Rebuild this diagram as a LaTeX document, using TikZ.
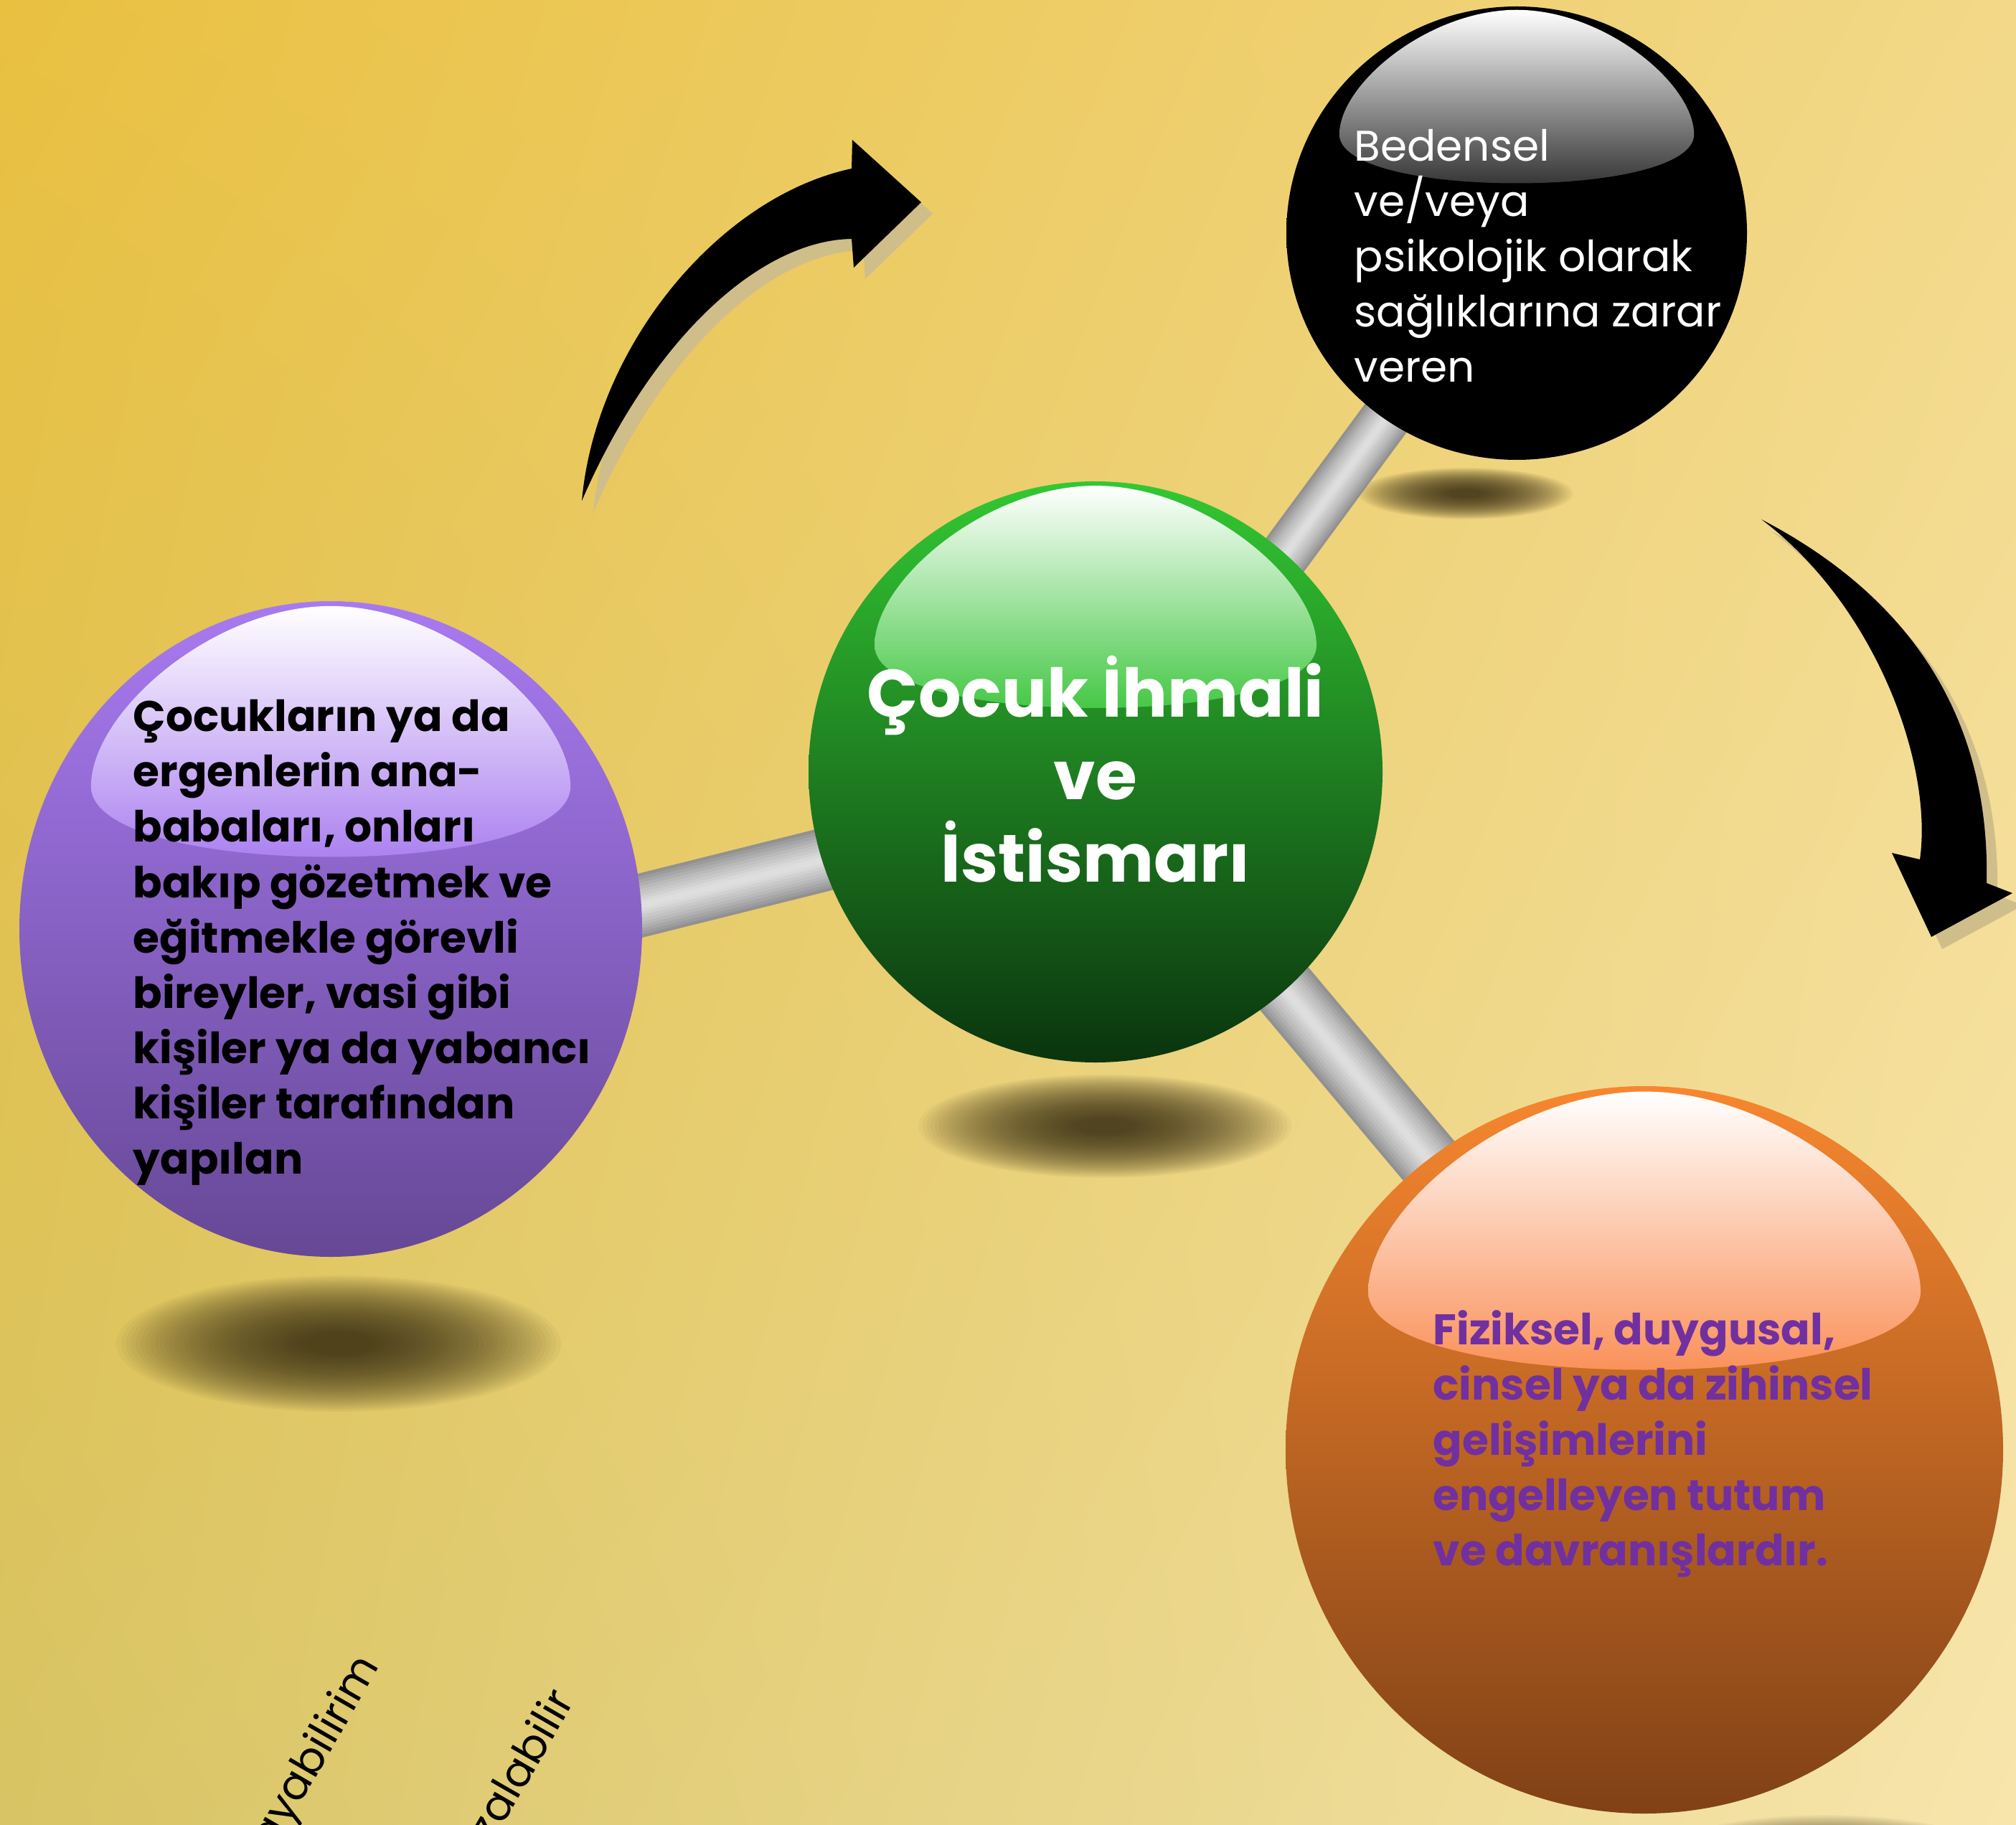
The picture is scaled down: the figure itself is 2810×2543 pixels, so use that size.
\documentclass[tikz,border=0pt]{standalone}
\usepackage{fontspec}
\setmainfont{Poppins}
\usetikzlibrary{shadings}
\definecolor{bgUL}{RGB}{233,192,64}
\definecolor{bgUR}{RGB}{242,216,136}
\definecolor{bgLL}{RGB}{216,196,100}
\definecolor{bgLR}{RGB}{247,229,172}
\definecolor{gTop}{RGB}{51,200,51}
\definecolor{gMid}{RGB}{40,150,40}
\definecolor{gBot}{RGB}{10,52,14}
\definecolor{gHl}{RGB}{70,200,70}
\definecolor{pTop}{RGB}{168,122,240}
\definecolor{pMid}{RGB}{138,98,205}
\definecolor{pBot}{RGB}{102,72,150}
\definecolor{pHl}{RGB}{172,130,240}
\definecolor{oTop}{RGB}{247,135,47}
\definecolor{oMid}{RGB}{212,108,35}
\definecolor{oBot}{RGB}{128,65,22}
\definecolor{oHl}{RGB}{250,145,90}
\definecolor{kHl}{RGB}{55,55,55}
\definecolor{txtPurple}{RGB}{112,48,160}
\definecolor{arrShadow}{RGB}{207,190,138}
\definecolor{shadowCol}{RGB}{55,45,20}
\definecolor{rodA}{gray}{0.57}
\definecolor{rodB}{gray}{0.61}
\definecolor{rodC}{gray}{0.65}
\definecolor{rodD}{gray}{0.69}
\definecolor{rodE}{gray}{0.73}
\definecolor{rodF}{gray}{0.76}
\definecolor{rodG}{gray}{0.79}
\definecolor{rodH}{gray}{0.82}
\definecolor{rodI}{gray}{0.85}
\definecolor{rodJ}{gray}{0.87}
\tikzset{
  greenball/.style={top color=gTop, middle color=gMid, bottom color=gBot},
  greenhl/.style={top color=white, bottom color=gHl},
  purpleball/.style={top color=pTop, middle color=pMid, bottom color=pBot},
  purplehl/.style={top color=white, bottom color=pHl},
  orangeball/.style={top color=oTop, middle color=oMid, bottom color=oBot},
  orangehl/.style={top color=white, bottom color=oHl},
  blackball/.style={top color=black, bottom color=black},
  blackhl/.style={top color=white, bottom color=kHl},
  balltext/.style={inner sep=0pt, align=left, anchor=north west},
  smalltext/.style={font=\fontsize{17}{21.9}\selectfont},
  smallbold/.style={font=\bfseries\fontsize{17}{21.9}\selectfont},
  bigbold/.style={font=\bfseries\fontsize{26.6}{32.8}\selectfont},
  blockarrow/.style={fill=black},
  blockshadow/.style={fill=arrShadow},
  softshadow/.style={fill=shadowCol, fill opacity=0.04},
}
\newcommand\mysphere[6]{%
  \begin{scope}[shift={(#1,#2)}, xscale=#3, yscale=#4]
    \shade[#5] (0,0) circle [radius=1];
    \shade[#6]
      (0,-0.985) .. controls (-0.38,-0.985) and (-0.77,-0.66) .. (-0.77,-0.435)
      .. controls (-0.77,-0.30) and (-0.42,-0.22) .. (0,-0.22)
      .. controls (0.42,-0.22) and (0.77,-0.30) .. (0.77,-0.435)
      .. controls (0.77,-0.66) and (0.38,-0.985) .. (0,-0.985) -- cycle;
  \end{scope}}
\newcommand\myshadow[4]{%
  \foreach \i in {0,...,39}{%
    \fill[softshadow] (#1,#2) ellipse [x radius={#3*(1-0.85*\i/39)}, y radius={#4*(1-0.85*\i/39)}];
  }}
\newcommand\myrod[3]{%
  \foreach \f/\c in {1/rodA,0.9/rodB,0.8/rodC,0.7/rodD,0.6/rodE,0.5/rodF,0.4/rodG,0.3/rodH,0.2/rodI,0.1/rodJ}{%
    \draw[\c, line width={\f*#3pt}] (#1) -- (#2);
  }}
\newcommand\arrowOnePath{%
  (811,698) .. controls (830,485) and (1000,275) .. (1187,235)
  -- (1188,195) -- (1284,282) -- (1190,373) -- (1187,333)
  .. controls (1060,335) and (910,470) .. (811,698) -- cycle}
\newcommand\arrowTwoPath{%
  (2455,724) .. controls (2620,810) and (2775,960) .. (2769,1231)
  -- (2805,1245) -- (2692,1306) -- (2637,1189) -- (2676,1198)
  .. controls (2695,1060) and (2610,840) .. (2455,724) -- cycle}
\begin{document}
\begin{tikzpicture}[x=0.01cm, y=-0.01cm]
\useasboundingbox (0,0) rectangle (2810,2543);
\clip (0,0) rectangle (2810,2543);
\shade[upper left=bgUL, upper right=bgUR, lower left=bgLL, lower right=bgLR] (0,0) rectangle (2810,2543);

% sphere centres
\coordinate (G) at (1527,1076);
\coordinate (K) at (2114,325);
\coordinate (P) at (461,1295);
\coordinate (O) at (2292,2021);

% rod end points
\coordinate (rb1) at (1565,1080);
\coordinate (rb2) at (2118,330);
\coordinate (ro1) at (1536,1076);
\coordinate (ro2) at (2330,2021);
\coordinate (rp1) at (1527,1104);
\coordinate (rp2) at (461,1370);

% floor shadows
\myshadow{2043}{688}{150}{36}
\myshadow{1540}{1570}{260}{72}
\myshadow{472}{1873}{310}{95}
\myshadow{2545}{2605}{260}{75}

% rods
\myrod{rp1}{rp2}{25}
\myrod{rb1}{rb2}{20}
\myrod{ro1}{ro2}{25.6}

% spheres
\mysphere{2114}{325}{321}{316}{blackball}{blackhl}
\mysphere{1527}{1076}{400}{405}{greenball}{greenhl}
\mysphere{461}{1295}{434}{457}{purpleball}{purplehl}
\mysphere{2292}{2021}{500}{507}{orangeball}{orangehl}

% texts
\node[balltext, smalltext, text=white] (tK) at (1887,180)
  {Bedensel\\ve/veya\\psikolojik olarak\\sağlıklarına zarar\\veren};
\node[inner sep=0pt, align=center, anchor=north, bigbold, text=white] (tG) at (1527,913)
  {Çocuk İhmali\\ve\\İstismarı};
\node[balltext, smallbold, text=black] (tP) at (185,975)
  {Çocukların ya da\\ergenlerin ana-\\babaları, onları\\bakıp gözetmek ve\\eğitmekle görevli\\bireyler, vasi gibi\\kişiler ya da yabancı\\kişiler tarafından\\yapılan};
\node[balltext, smallbold, text=txtPurple] (tO) at (1997,1826)
  {Fiziksel, duygusal,\\cinsel ya da zihinsel\\gelişimlerini\\engelleyen tutum\\ve davranışlardır.};

% rotated texts at the bottom
\node[rotate=60, anchor=base east, inner sep=0pt, smalltext] (r1) at (530,2322) {ayabilirim};
\node[rotate=60, anchor=base east, inner sep=0pt, smalltext] (r2) at (802,2370) {zalabilir};

% curved block arrows
\begin{scope}[shift={(16,16)}]
  \fill[blockshadow] \arrowOnePath;
\end{scope}
\fill[blockarrow] \arrowOnePath;
\begin{scope}[shift={(15,17)}]
  \fill[blockshadow] \arrowTwoPath;
\end{scope}
\fill[blockarrow] \arrowTwoPath;
\end{tikzpicture}
\end{document}
